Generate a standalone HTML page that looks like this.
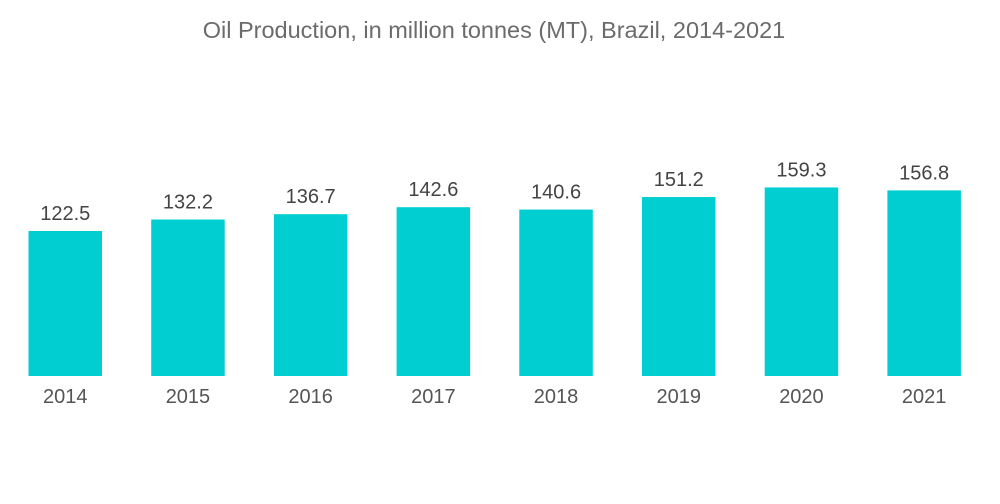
<!DOCTYPE html>
<html><head><meta charset="utf-8"><style>
body{margin:0;background:#fff;width:1000px;height:504px;overflow:hidden}
svg{display:block;font-family:"Liberation Sans",sans-serif}
</style></head><body>
<svg id="chart" width="1000" height="504">
<text x="494" y="38" text-anchor="middle" font-size="23.5" fill="#6b6b6b">Oil Production, in million tonnes (MT), Brazil, 2014-2021</text>
<g id="bars"></g>
</svg>
<script>
const categories=["2014","2015","2016","2017","2018","2019","2020","2021"];
const values=[122.5,132.2,136.7,142.6,140.6,151.2,159.3,156.8];
const labels=["122.5","132.2","136.7","142.6","140.6","151.2","159.3","156.8"];
const baseY=376, scale=145/122.5, x0=28.5, step=122.7, bw=73.5;
const yPos=v=>baseY-v*scale;
const xPos=i=>x0+i*step;
const g=document.getElementById('bars');
const NS="http://www.w3.org/2000/svg";
categories.forEach((c,i)=>{
  const r=document.createElementNS(NS,'rect');
  r.setAttribute('x',xPos(i));r.setAttribute('y',yPos(values[i]));
  r.setAttribute('width',bw);r.setAttribute('height',baseY-yPos(values[i]));
  r.setAttribute('fill','#00ced1');
  
  
  g.appendChild(r);
  const t=document.createElementNS(NS,'text');
  t.setAttribute('x',xPos(i)+bw/2);t.setAttribute('y',yPos(values[i])-11);
  t.setAttribute('text-anchor','middle');t.setAttribute('font-size','20');t.setAttribute('fill','#444');
  t.textContent=labels[i];
  
  
  g.appendChild(t);
  const a=document.createElementNS(NS,'text');
  a.setAttribute('x',xPos(i)+bw/2);a.setAttribute('y',403);
  a.setAttribute('text-anchor','middle');a.setAttribute('font-size','20');a.setAttribute('fill','#555');
  a.textContent=c;
  
  
  g.appendChild(a);
});
</script>
</body></html>
